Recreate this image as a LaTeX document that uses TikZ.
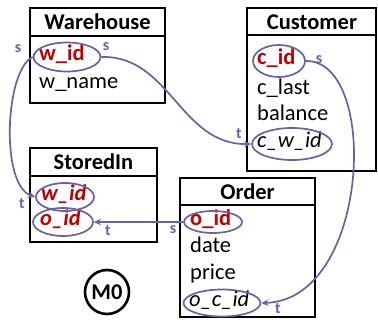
\documentclass[tikz,border=0pt]{standalone}
\usepackage{fontspec}
\setmainfont{Carlito}
\usetikzlibrary{shapes.geometric,arrows.meta}
\definecolor{linkc}{RGB}{106,96,168}
\definecolor{keyred}{RGB}{192,0,0}
\begin{document}
\begin{tikzpicture}[x=1pt,y=-1pt,
  tbl/.style={draw=black,line width=2.8pt},
  ttl/.style={font=\fontsize{22.5}{26}\selectfont\bfseries,inner sep=0pt},
  att/.style={font=\fontsize{22.5}{26}\selectfont,anchor=mid west,inner sep=0pt},
  key/.style={att,text=keyred,font=\fontsize{22.5}{26}\selectfont\bfseries},
  fkey/.style={att,font=\fontsize{22.5}{26}\selectfont\itshape},
  ikey/.style={att,text=keyred,font=\fontsize{22.5}{26}\selectfont\bfseries\itshape},
  ring/.style={draw=linkc,line width=1.7pt,ellipse,inner sep=0pt},
  link/.style={draw=linkc,line width=1.7pt},
  arr/.style={-{Stealth[length=7pt,width=6.5pt]}},
  lab/.style={text=linkc,font=\fontsize{16}{18}\selectfont\bfseries,inner sep=0pt}]
\useasboundingbox (0,0) rectangle (378,320);
% tables
\draw[tbl] (30,8) rectangle (165,103); \draw[tbl] (30,36) -- (165,36);
\draw[tbl] (247,8) rectangle (376,171); \draw[tbl] (247,35) -- (376,35);
\draw[tbl] (30,148) rectangle (157,242); \draw[tbl] (30,176) -- (157,176);
\draw[tbl] (180,178) rectangle (315,317); \draw[tbl] (180,205) -- (315,205);
% titles
\node[ttl] (wt) at (97.5,22) {Warehouse};
\node[ttl] (ct) at (312,22) {Customer};
\node[ttl] (st) at (93.5,162) {StoredIn};
\node[ttl] (ot) at (247.5,192) {Order};
% attributes
\node[key] (wid) at (39,58) {w\_id};
\node[att] (wname) at (39,86.5) {w\_name};
\node[key] (cid) at (257,62) {c\_id};
\node[att] (clast) at (257,92) {c\_last};
\node[att] (cbal) at (257,118.5) {balance};
\node[fkey] (cwid) at (257,145.5) {c\_w\_id};
\node[ikey] (swid) at (41,198) {w\_id};
\node[ikey] (soid) at (40,223) {o\_id};
\node[key] (oid) at (190,223) {o\_id};
\node[att] (odate) at (190,250.5) {date};
\node[att] (oprice) at (190,277.5) {price};
\node[fkey] (ocid) at (189,304.5) {o\_c\_id};
% rings
\node[ring,minimum width=67pt,minimum height=29pt] (ww) at (67,57) {};
\node[ring,minimum width=52pt,minimum height=32pt] (ci) at (279,61) {};
\node[ring,minimum width=80pt,minimum height=32pt] (cw) at (292,144) {};
\node[ring,minimum width=58pt,minimum height=28pt] (sw) at (65,197) {};
\node[ring,minimum width=60pt,minimum height=28pt] (so) at (63,222) {};
\node[ring,minimum width=58pt,minimum height=22pt] (oi) at (213,222) {};
\node[ring,minimum width=77pt,minimum height=27pt] (oc) at (222,303) {};
% links
\draw[link,arr] (ww.west) .. controls (5,70) and (0,185) .. (sw.west);
\draw[link,arr] (ww.east) .. controls (170,55) and (180,145) .. (cw.west);
\draw[link,arr] (ci.east) .. controls (380,60) and (370,300) .. (oc.east);
\draw[link,arr] (oi.west) -- (so.east);
% labels
\node[lab] (l1) at (18,49) {s};
\node[lab] (l2) at (106,47) {s};
\node[lab] (l3) at (22,204) {t};
\node[lab] (l4) at (239,134) {t};
\node[lab] (l5) at (319,60) {s};
\node[lab] (l6) at (278,309) {t};
\node[lab] (l7) at (173,230) {s};
\node[lab] (l8) at (108,231) {t};
% M0
\node[ttl,draw,circle,line width=2.6pt,minimum size=44pt] (m0) at (107,292) {M0};
\end{tikzpicture}
\end{document}
